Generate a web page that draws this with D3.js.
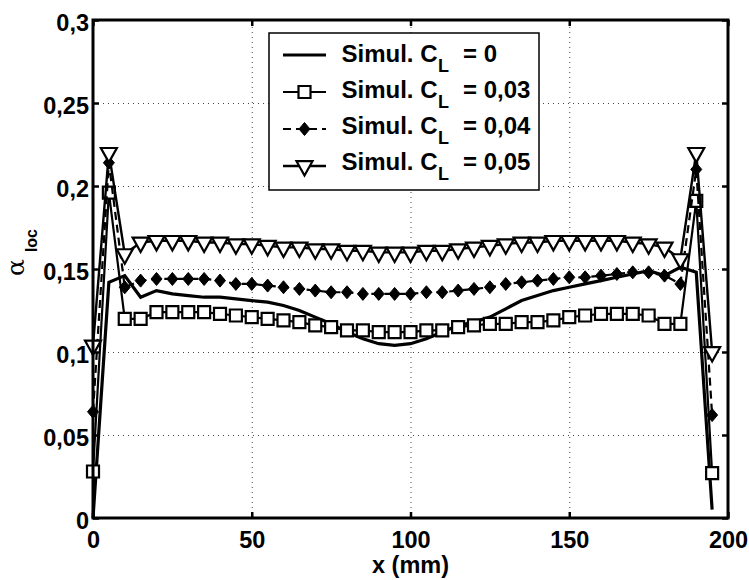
<!DOCTYPE html>
<html><head><meta charset="utf-8">
<script src="https://cdn.jsdelivr.net/npm/d3@7"></script>
<style>body{margin:0;background:#fff}</style>
</head><body>
<svg id="chart" width="749" height="580"></svg>
<script>
const xValues = [0,5,10,15,20,25,30,35,40,45,50,55,60,65,70,75,80,85,90,95,100,105,110,115,120,125,130,135,140,145,150,155,160,165,170,175,180,185,190,195];
const seriesCL0 = [0.0,0.142,0.146,0.133,0.137,0.135,0.134,0.133,0.133,0.132,0.131,0.130,0.128,0.125,0.121,0.117,0.112,0.108,0.105,0.104,0.105,0.108,0.112,0.116,0.118,0.121,0.126,0.131,0.134,0.137,0.139,0.141,0.143,0.145,0.147,0.149,0.146,0.151,0.148,0.005];
const seriesCL003 = [0.028,0.196,0.120,0.120,0.124,0.124,0.124,0.124,0.123,0.122,0.121,0.120,0.119,0.118,0.116,0.115,0.113,0.113,0.112,0.112,0.112,0.113,0.113,0.115,0.116,0.117,0.117,0.118,0.118,0.119,0.121,0.122,0.123,0.123,0.123,0.122,0.117,0.117,0.191,0.027];
const seriesCL004 = [0.064,0.214,0.139,0.143,0.144,0.144,0.144,0.144,0.143,0.141,0.141,0.140,0.139,0.138,0.137,0.136,0.136,0.135,0.135,0.135,0.135,0.136,0.136,0.137,0.138,0.139,0.141,0.142,0.143,0.144,0.145,0.145,0.146,0.147,0.148,0.148,0.146,0.141,0.210,0.062];
const seriesCL005 = [0.104,0.220,0.159,0.166,0.167,0.167,0.167,0.166,0.166,0.165,0.165,0.164,0.163,0.163,0.162,0.162,0.161,0.161,0.160,0.160,0.160,0.161,0.161,0.162,0.163,0.164,0.165,0.166,0.166,0.167,0.167,0.167,0.167,0.167,0.166,0.165,0.163,0.156,0.220,0.100];
const xTicks = [0,50,100,150,200];
const yTicks = [0,0.05,0.1,0.15,0.2,0.25,0.3];
const yTickLabels = ["0","0,05","0,1","0,15","0,2","0,25","0,3"];
const legendValues = ["0","0,03","0,04","0,05"];

const FONT = "'Liberation Sans', Arial, Helvetica, sans-serif";
const svg = d3.select("#chart");
const L = 93, R = 728, T = 20, B = 518;
const x = d3.scaleLinear().domain([0,200]).range([L,R]);
const y = d3.scaleLinear().domain([0,0.3]).range([B,T]);

// grid
const gridX = svg.append("g").attr("transform",`translate(0,${B})`)
  .call(d3.axisBottom(x).tickValues(xTicks.slice(1,-1)).tickSize(-(B-T)).tickFormat(""));
const gridY = svg.append("g").attr("transform",`translate(${L},0)`)
  .call(d3.axisLeft(y).tickValues(yTicks.slice(1,-1)).tickSize(-(R-L)).tickFormat(""));
[gridX,gridY].forEach(g=>{
  g.select(".domain").remove();
  g.selectAll("line").attr("stroke","#444").attr("stroke-width",1).attr("stroke-dasharray","1,4");
});

// series
const series = [
  {vals: seriesCL0, width: 3.2, dash: null, marker: null},
  {vals: seriesCL003, width: 2.2, dash: null, marker: "square"},
  {vals: seriesCL004, width: 2.2, dash: "8,5", marker: "diamond"},
  {vals: seriesCL005, width: 2.4, dash: null, marker: "triangle"}
];
const lineGen = d3.line().x(d=>x(d[0])).y(d=>y(d[1]));

const symSquare = {draw(c){ c.moveTo(-6,-6); c.lineTo(6,-6); c.lineTo(6,6); c.lineTo(-6,6); c.closePath(); }};
const symDiamond = {draw(c){ c.moveTo(0,-6.5); c.lineTo(5.5,0); c.lineTo(0,6.5); c.lineTo(-5.5,0); c.closePath(); }};
const symTri = {draw(c){ c.moveTo(-8,-4.8); c.lineTo(8,-4.8); c.lineTo(0,9.6); c.closePath(); }};
function drawMarker(g, type, px, py){
  if(type==="square") g.append("path").attr("d", d3.symbol(symSquare)()).attr("transform",`translate(${px},${py})`).attr("fill","#fff").attr("stroke","#000").attr("stroke-width",2.2);
  if(type==="diamond") g.append("path").attr("d", d3.symbol(symDiamond)()).attr("transform",`translate(${px},${py})`).attr("fill","#000").attr("stroke","#000").attr("stroke-width",1);
  if(type==="triangle") g.append("path").attr("d", d3.symbol(symTri)()).attr("transform",`translate(${px},${py})`).attr("fill","#fff").attr("stroke","#000").attr("stroke-width",2.2).attr("stroke-linejoin","miter");
}

series.forEach(s=>{
  const pts = xValues.map((xv,i)=>[xv,s.vals[i]]);
  const g = svg.append("g");
  g.append("path").attr("d", lineGen(pts)).attr("fill","none").attr("stroke","#000")
    .attr("stroke-width", s.width).attr("stroke-dasharray", s.dash).attr("stroke-linejoin","miter");
  if(s.marker) pts.forEach(p=>drawMarker(g, s.marker, x(p[0]), y(p[1])));
});

// axes
const axB = svg.append("g").attr("transform",`translate(0,${B})`)
  .call(d3.axisBottom(x).tickValues(xTicks).tickSize(-6).tickPadding(13).tickFormat(d=>String(d)));
const axT = svg.append("g").attr("transform",`translate(0,${T})`)
  .call(d3.axisTop(x).tickValues(xTicks).tickSize(-6).tickFormat(""));
const axL = svg.append("g").attr("transform",`translate(${L},0)`)
  .call(d3.axisLeft(y).tickValues(yTicks).tickSize(-6).tickPadding(4).tickFormat((d,i)=>yTickLabels[i]));
const axR = svg.append("g").attr("transform",`translate(${R},0)`)
  .call(d3.axisRight(y).tickValues(yTicks).tickSize(-6).tickFormat(""));
[axB,axT,axL,axR].forEach(g=>{
  g.select(".domain").remove();
  g.selectAll("line").attr("stroke","#000").attr("stroke-width",2.5);
  g.selectAll("text").attr("font-family",FONT).attr("font-weight","bold").attr("font-size",23.5).attr("fill","#000");
});
axL.selectAll("text").attr("dy","0.45em");
svg.append("rect").attr("x",L).attr("y",T).attr("width",R-L).attr("height",B-T)
  .attr("fill","none").attr("stroke","#000").attr("stroke-width",3);

// axis labels
svg.append("text").attr("x",(L+R)/2).attr("y",573).attr("text-anchor","middle")
  .attr("font-family",FONT).attr("font-weight","bold").attr("font-size",23.5).text("x (mm)");
const yl = svg.append("text").attr("transform","translate(24,276) rotate(-90)")
  .attr("font-family",FONT).attr("font-size",25);
yl.append("tspan").text("α").attr("font-family","'DejaVu Serif', serif");
yl.append("tspan").attr("dx",7).attr("dy",13).attr("font-weight","bold").attr("font-size",16).text("loc");

// legend
const lg = svg.append("g");
lg.append("rect").attr("x",269).attr("y",33).attr("width",270).attr("height",157)
  .attr("fill","#fff").attr("stroke","#000").attr("stroke-width",1.5);
const rowLineY = [55,92,129,166];
const rowBase = [61.5,97.5,133.5,169.5];
series.forEach((s,i)=>{
  lg.append("line").attr("x1",283).attr("x2",326).attr("y1",rowLineY[i]).attr("y2",rowLineY[i])
    .attr("stroke","#000").attr("stroke-width",s.width).attr("stroke-dasharray", s.dash);
  if(s.marker) drawMarker(lg, s.marker, 304.5, rowLineY[i]);
  const t = lg.append("text").attr("y",rowBase[i]).attr("font-family",FONT).attr("font-weight","bold").attr("font-size",24);
  t.append("tspan").attr("x",341.5).text("Simul. C");
  t.append("tspan").attr("x",438).attr("dy",10).attr("font-size",18).text("L");
  t.append("tspan").attr("x",463).attr("dy",-10).text("= " + legendValues[i]);
});
</script>
</body></html>
